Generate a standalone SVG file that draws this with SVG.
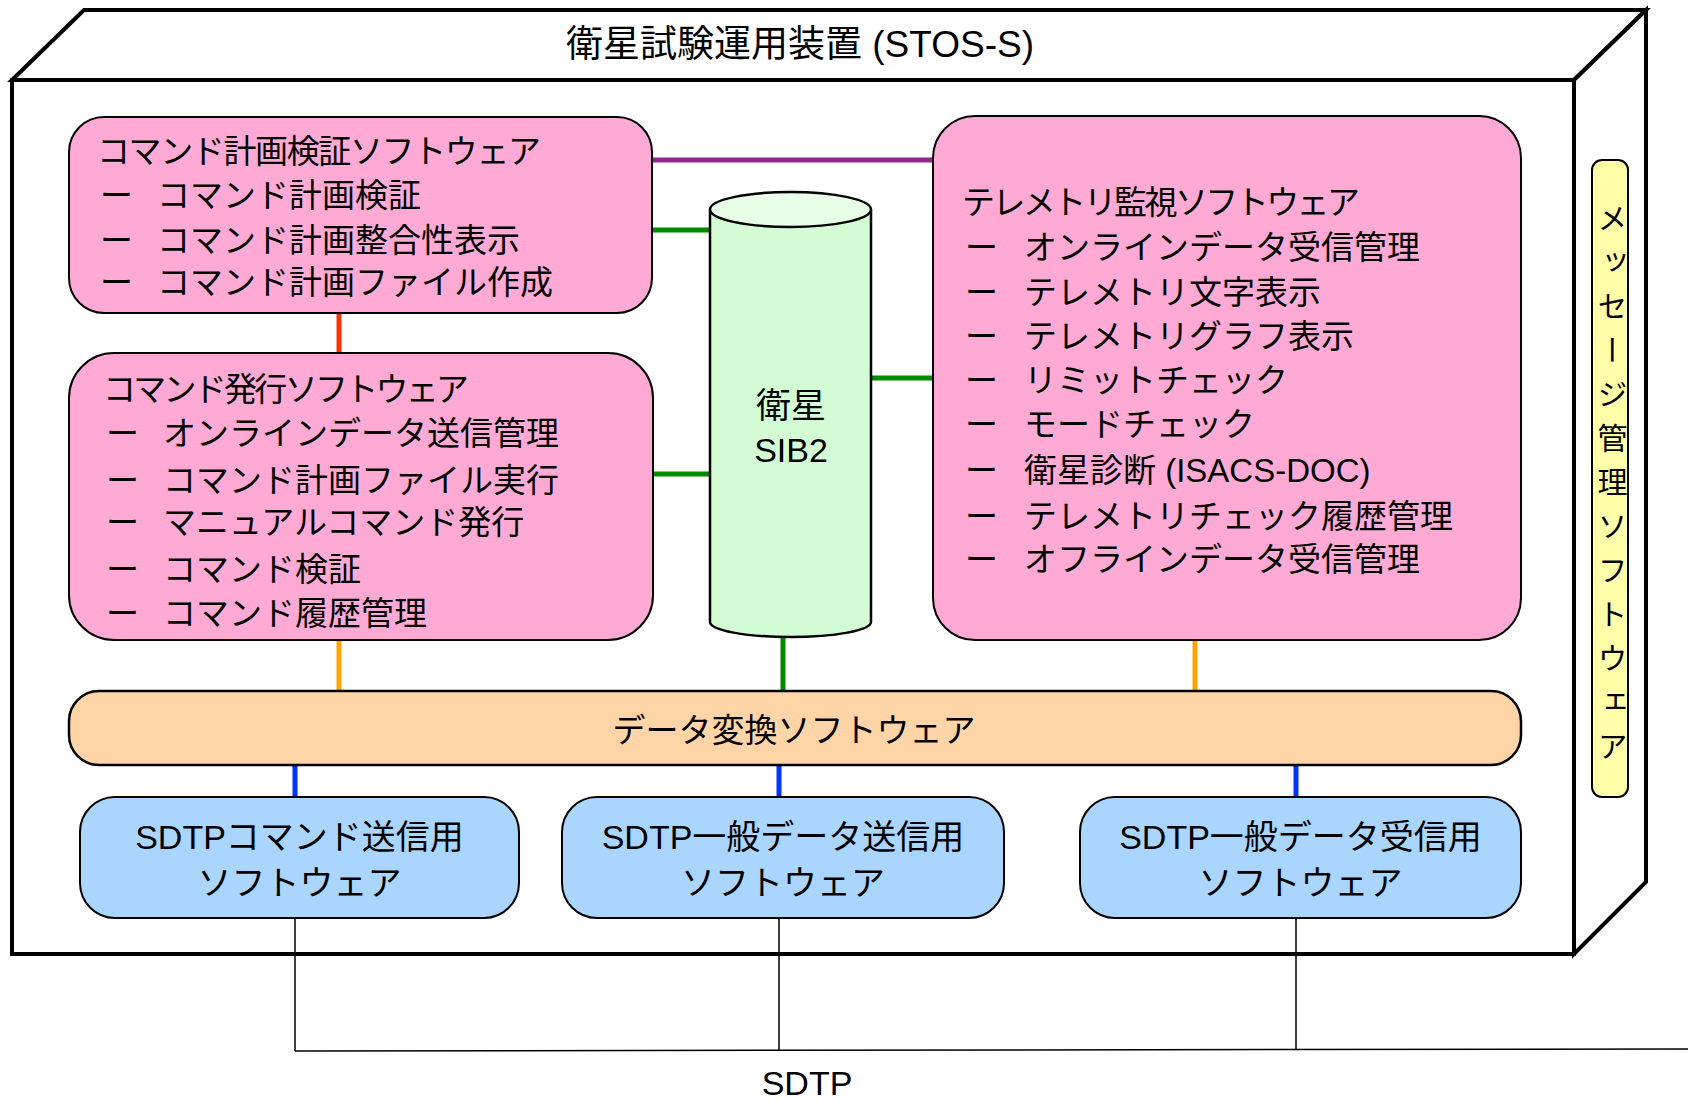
<svg xmlns="http://www.w3.org/2000/svg" width="1688" height="1101" viewBox="0 0 1688 1101">
<style>
text{font-family:"Liberation Sans","Noto Sans CJK JP",sans-serif;fill:#000}
.t{font-size:33px}
.s{font-size:34px}
.frame{fill:#fff;stroke:#000;stroke-width:4;stroke-linejoin:miter}
.pink{fill:#FFAAD5;stroke:#000;stroke-width:2}
.conv{fill:#FFD5A8;stroke:#000;stroke-width:2.5}
.sdtp{fill:#AAD5FF;stroke:#000;stroke-width:2}
.msg{fill:#FFFFAA;stroke:#000;stroke-width:2}
.cyl{fill:#D4FCD4;stroke:#000;stroke-width:2.5}
.c{stroke-width:5;fill:none}
.thin{stroke:#000;fill:none;stroke-width:1.5}
</style>
<g id="stos-s">
<polygon class="frame" points="12,80 84,10 1646,10 1574,80"/>
<polygon class="frame" points="1574,80 1646,10 1646,882 1574,954"/>
<rect class="frame" x="12" y="80" width="1562" height="874"/>
<text x="800" y="57" font-size="37" text-anchor="middle">衛星試験運用装置 (STOS-S)</text>
</g>
<g id="connectors">
<path class="c" stroke="#93278F" d="M652,160 H933"/>
<path class="c" stroke="#008A00" d="M652,230 H710 M653,474 H710 M871,378 H933 M783,637 V691"/>
<path class="c" stroke="#FF3300" d="M339,313 V353"/>
<path class="c" stroke="#FFA500" d="M339,640 V691 M1195,640 V691"/>
<path class="c" stroke="#0033FF" d="M295,765 V797 M779,765 V797 M1296,765 V797"/>
<path class="thin" d="M295,918 V1051 M779,918 V1051 M1296,918 V1050"/>
<path class="thin" stroke-width="2.5" d="M295,1051 L1688,1049"/>
<text x="807" y="1095" font-size="34" text-anchor="middle">SDTP</text>
</g>
<g id="cmd-plan">
<rect class="pink" x="69" y="117" width="583" height="196" rx="35"/>
<text class="t" x="97" y="163" textLength="444">コマンド計画検証ソフトウェア</text>
<text class="t" x="100" y="207">ー<tspan x="157">コマンド計画検証</tspan></text>
<text class="t" x="100" y="252">ー<tspan x="157">コマンド計画整合性表示</tspan></text>
<text class="t" x="100" y="294">ー<tspan x="157">コマンド計画ファイル作成</tspan></text>
</g>
<g id="cmd-issue">
<rect class="pink" x="69" y="353" width="584" height="287" rx="45"/>
<text class="t" x="103" y="401" textLength="366">コマンド発行ソフトウェア</text>
<text class="t" x="106" y="445">ー<tspan x="163">オンラインデータ送信管理</tspan></text>
<text class="t" x="106" y="492">ー<tspan x="163">コマンド計画ファイル実行</tspan></text>
<text class="t" x="106" y="534">ー<tspan x="163">マニュアルコマンド発行</tspan></text>
<text class="t" x="106" y="581">ー<tspan x="163">コマンド検証</tspan></text>
<text class="t" x="106" y="625">ー<tspan x="163">コマンド履歴管理</tspan></text>
</g>
<g id="sib2">
<path class="cyl" d="M710,209.5 V622 A80.5,15 0 0 0 871,622 V209.5"/>
<ellipse cx="790.5" cy="209.5" rx="80.5" ry="17.5" fill="#E6FFE6" stroke="#000" stroke-width="2.5"/>
<text x="791" y="418" font-size="35" text-anchor="middle">衛星</text>
<text x="791" y="462" font-size="34" text-anchor="middle">SIB2</text>
</g>
<g id="telemetry">
<rect class="pink" x="933" y="116" width="588" height="524" rx="42"/>
<text class="t" x="962" y="214" textLength="398">テレメトリ監視ソフトウェア</text>
<text class="t" x="965" y="259">ー<tspan x="1024">オンラインデータ受信管理</tspan></text>
<text class="t" x="965" y="304">ー<tspan x="1024">テレメトリ文字表示</tspan></text>
<text class="t" x="965" y="348">ー<tspan x="1024">テレメトリグラフ表示</tspan></text>
<text class="t" x="965" y="392">ー<tspan x="1024">リミットチェック</tspan></text>
<text class="t" x="965" y="436">ー<tspan x="1024">モードチェック</tspan></text>
<text class="t" x="965" y="482">ー<tspan x="1024">衛星診断 (ISACS-DOC)</tspan></text>
<text class="t" x="965" y="528">ー<tspan x="1024">テレメトリチェック履歴管理</tspan></text>
<text class="t" x="965" y="571">ー<tspan x="1024">オフラインデータ受信管理</tspan></text>
</g>
<g id="data-conv">
<rect class="conv" x="69" y="691" width="1452" height="74" rx="30"/>
<text class="t" x="794" y="742" text-anchor="middle">データ変換ソフトウェア</text>
</g>
<g id="sdtp-cmd-send">
<rect class="sdtp" x="80" y="797" width="439" height="121" rx="35"/>
<text class="s" x="299.5" y="849" text-anchor="middle">SDTPコマンド送信用</text>
<text class="s" x="299.5" y="895" text-anchor="middle">ソフトウェア</text>
</g>
<g id="sdtp-gen-send">
<rect class="sdtp" x="562" y="797" width="442" height="121" rx="35"/>
<text class="s" x="783" y="849" text-anchor="middle">SDTP一般データ送信用</text>
<text class="s" x="783" y="895" text-anchor="middle">ソフトウェア</text>
</g>
<g id="sdtp-gen-recv">
<rect class="sdtp" x="1080" y="797" width="441" height="121" rx="35"/>
<text class="s" x="1300.5" y="849" text-anchor="middle">SDTP一般データ受信用</text>
<text class="s" x="1300.5" y="895" text-anchor="middle">ソフトウェア</text>
</g>
<g id="message-mgmt">
<rect class="msg" x="1592" y="160" width="36" height="637" rx="10"/>
<text x="1610" y="203" font-size="30" letter-spacing="14" style="writing-mode:vertical-rl">メッセージ管理ソフトウェア</text>
</g>
</svg>
